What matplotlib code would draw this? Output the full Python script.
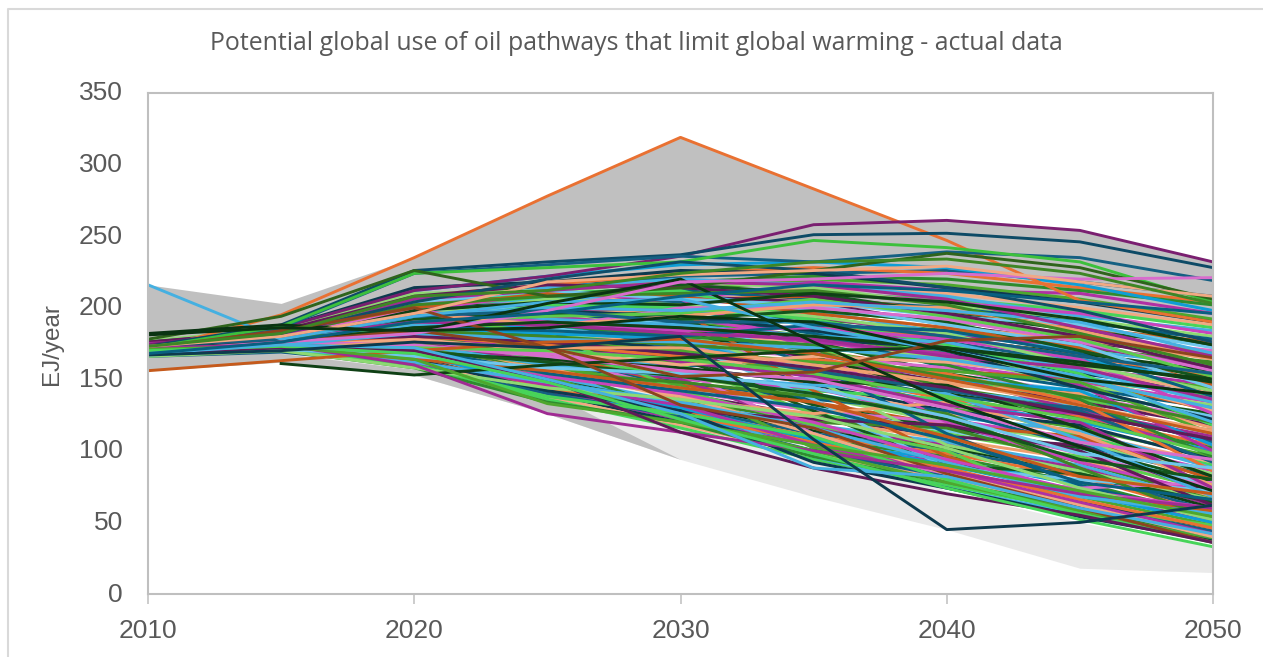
import numpy as np
import matplotlib
matplotlib.use('Agg')
import matplotlib.pyplot as plt
from matplotlib.lines import Line2D
from matplotlib.transforms import ScaledTranslation

years = [2010, 2015, 2020, 2025, 2030, 2035, 2040, 2045, 2050]

band_top = [216, 203, 235, 278, 319, 283, 247, 215, 200]
band_top2 = [172, 180, 208, 222, 236, 258, 261, 254, 232]
band_upper_low = [172, 180, 208, 212, 215, 208, 198, 195, 190]
band_light_top = [168, 170, 178, 170, 145, 110, 72, 50, 33]
band_dark_low = [168, 168, 157, 141, 94, 68, 45, 18, 15]
band_bottom = [156, 162, 153, 126, 94, 68, 45, 18, 15]

# bulk of the pathways, EJ/year at each year
pathways = [
    [172, 180, 205, 214, 222, 224, 226, 218, 208],
    [174, 182, 208, 216, 224, 228, 224, 214, 204],
    [170, 178, 200, 212, 218, 222, 220, 212, 202],
    [176, 184, 212, 222, 230, 232, 228, 216, 198],
    [168, 176, 198, 208, 216, 218, 212, 210, 196],
    [172, 180, 204, 206, 212, 220, 216, 206, 192],
    [175, 186, 214, 218, 226, 224, 214, 204, 190],
    [170, 177, 196, 204, 210, 214, 210, 200, 188],
    [173, 181, 206, 210, 214, 210, 206, 198, 186],
    [171, 179, 202, 214, 220, 216, 208, 194, 184],
    [169, 175, 194, 202, 208, 212, 204, 196, 182],
    [177, 185, 210, 212, 218, 214, 202, 192, 180],
    [174, 180, 200, 206, 212, 206, 200, 190, 178],
    [168, 174, 192, 200, 206, 208, 198, 186, 176],
    [172, 178, 198, 208, 216, 210, 196, 184, 174],
    [170, 176, 190, 198, 204, 204, 194, 188, 172],
    [175, 182, 204, 204, 206, 200, 192, 180, 170],
    [167, 173, 188, 194, 200, 198, 190, 182, 168],
    [171, 178, 196, 202, 208, 204, 188, 176, 166],
    [173, 180, 200, 198, 196, 196, 186, 178, 164],
    [169, 174, 186, 192, 198, 192, 184, 172, 162],
    [176, 183, 202, 206, 210, 198, 182, 170, 160],
    [168, 175, 190, 196, 202, 194, 180, 174, 158],
    [172, 177, 188, 190, 192, 190, 178, 168, 156],
    [170, 176, 194, 200, 204, 188, 176, 162, 154],
    [174, 179, 192, 188, 186, 186, 180, 166, 152],
    [167, 172, 182, 186, 192, 184, 172, 160, 150],
    [171, 178, 198, 204, 200, 182, 170, 164, 148],
    [169, 173, 180, 182, 188, 186, 174, 158, 146],
    [175, 181, 196, 194, 190, 180, 168, 156, 144],
    [168, 174, 186, 190, 184, 178, 172, 154, 142],
    [172, 176, 184, 184, 182, 176, 164, 158, 140],
    [173, 180, 200, 208, 212, 190, 166, 150, 138],
    [170, 175, 188, 186, 178, 174, 162, 152, 136],
    [176, 182, 194, 196, 194, 178, 160, 148, 134],
    [167, 171, 178, 180, 176, 172, 166, 146, 132],
    [171, 177, 190, 192, 196, 182, 158, 144, 130],
    [174, 178, 186, 178, 174, 170, 156, 150, 128],
    [169, 174, 182, 188, 190, 176, 154, 140, 126],
    [172, 179, 198, 200, 188, 168, 152, 142, 124],
    [168, 172, 176, 176, 172, 166, 158, 138, 122],
    [175, 180, 192, 184, 180, 172, 150, 136, 120],
    [170, 176, 188, 194, 186, 164, 148, 134, 118],
    [173, 177, 180, 174, 168, 160, 146, 140, 116],
    [167, 172, 180, 182, 184, 170, 144, 130, 114],
    [171, 178, 196, 190, 176, 158, 142, 132, 112],
    [169, 173, 178, 172, 164, 162, 152, 128, 110],
    [174, 179, 188, 186, 182, 166, 140, 126, 108],
    [172, 175, 176, 168, 160, 156, 138, 130, 106],
    [168, 174, 186, 180, 170, 154, 136, 124, 104],
    [176, 181, 190, 176, 166, 152, 144, 122, 102],
    [170, 175, 184, 188, 178, 150, 134, 120, 100],
    [173, 178, 182, 170, 158, 148, 132, 126, 98],
    [167, 171, 174, 166, 162, 158, 130, 116, 96],
    [171, 176, 186, 178, 172, 146, 128, 118, 94],
    [169, 174, 180, 184, 174, 144, 126, 112, 92],
    [174, 178, 178, 164, 154, 142, 136, 110, 90],
    [172, 177, 184, 174, 156, 140, 124, 114, 88],
    [168, 172, 172, 162, 150, 144, 122, 108, 86],
    [175, 180, 188, 172, 152, 138, 120, 106, 84],
    [170, 174, 176, 160, 148, 136, 128, 104, 82],
    [173, 176, 178, 168, 146, 134, 118, 110, 80],
    [167, 172, 182, 176, 164, 132, 116, 102, 78],
    [171, 175, 170, 158, 144, 130, 114, 100, 76],
    [169, 173, 176, 166, 142, 128, 120, 98, 74],
    [174, 179, 186, 170, 160, 126, 112, 96, 72],
    [172, 176, 174, 156, 140, 124, 110, 104, 70],
    [168, 171, 168, 154, 138, 122, 108, 94, 68],
    [176, 180, 182, 164, 136, 120, 116, 92, 66],
    [170, 174, 172, 152, 134, 118, 106, 90, 64],
    [173, 177, 176, 162, 150, 116, 104, 88, 62],
    [167, 170, 166, 150, 132, 114, 102, 86, 60],
    [171, 174, 170, 148, 130, 112, 100, 84, 58],
    [169, 172, 164, 146, 128, 110, 98, 82, 56],
    [174, 177, 174, 160, 126, 108, 96, 78, 54],
    [172, 175, 168, 144, 124, 106, 94, 76, 52],
    [168, 170, 162, 142, 122, 104, 92, 72, 50],
    [175, 178, 172, 158, 146, 102, 86, 68, 48],
    [170, 173, 166, 140, 120, 100, 84, 64, 46],
    [173, 175, 164, 138, 118, 98, 80, 60, 44],
    [167, 170, 160, 136, 116, 94, 76, 58, 42],
    [171, 173, 168, 148, 134, 96, 74, 56, 40],
    # these cross the fan at steeper angles
    [176, 182, 198, 210, 206, 170, 120, 92, 70],
    [172, 178, 200, 196, 184, 150, 104, 86, 66],
    [170, 176, 190, 180, 190, 160, 112, 76, 54],
    [174, 180, 192, 200, 198, 142, 96, 70, 58],
    [168, 174, 184, 172, 168, 128, 90, 84, 64],
    [173, 177, 180, 186, 176, 136, 88, 80, 72],
    [169, 173, 172, 168, 156, 112, 82, 74, 78],
    [175, 181, 194, 182, 142, 118, 100, 60, 48],
    [171, 176, 178, 150, 128, 122, 118, 100, 62],
    [167, 172, 170, 158, 136, 126, 134, 112, 76],
    [172, 177, 176, 154, 148, 138, 126, 88, 52],
    [170, 175, 174, 160, 152, 146, 140, 108, 68],
    [174, 178, 182, 178, 162, 152, 132, 120, 74],
    [168, 172, 168, 164, 158, 148, 146, 116, 82],
    [173, 179, 188, 192, 170, 156, 142, 128, 92],
    [169, 174, 180, 174, 166, 164, 154, 134, 86],
    [176, 183, 196, 188, 180, 174, 160, 136, 96],
    [171, 177, 186, 182, 178, 168, 150, 142, 104],
    [172, 180, 202, 194, 186, 176, 168, 146, 100],
    [170, 175, 184, 176, 170, 162, 156, 148, 112],
    [175, 181, 192, 198, 194, 184, 170, 144, 122],
    [168, 173, 178, 170, 160, 166, 162, 152, 128],
    [173, 178, 190, 202, 200, 192, 174, 154, 118],
    [169, 176, 188, 192, 188, 180, 176, 156, 134],
    [174, 180, 198, 190, 184, 186, 178, 164, 126],
    [171, 177, 194, 206, 202, 194, 182, 160, 142],
    [167, 174, 186, 184, 180, 188, 184, 168, 138],
    [172, 179, 200, 210, 208, 196, 186, 172, 146],
    [170, 176, 192, 196, 192, 198, 190, 170, 150],
    [175, 183, 204, 212, 206, 202, 188, 174, 144],
    [173, 180, 198, 186, 200, 200, 192, 176, 156],
    [169, 175, 190, 194, 196, 206, 194, 178, 152],
    [176, 184, 208, 216, 214, 208, 196, 180, 158],
    [171, 178, 196, 188, 194, 202, 200, 184, 164],
    [174, 181, 202, 208, 210, 212, 202, 182, 160],
    [168, 176, 194, 200, 198, 204, 198, 190, 168],
    [172, 180, 206, 212, 218, 216, 206, 186, 166],
    [170, 177, 198, 204, 202, 210, 204, 192, 174],
    # low edge of the fan
    [166, 169, 160, 140, 124, 100, 82, 62, 44],
    [170, 172, 164, 144, 126, 106, 88, 66, 46],
    [168, 170, 158, 134, 120, 96, 78, 60, 40],
    [172, 174, 166, 150, 130, 108, 90, 70, 50],
    [169, 171, 162, 146, 132, 104, 86, 64, 42],
    [171, 173, 168, 152, 122, 100, 78, 58, 38],
    [167, 170, 164, 142, 128, 92, 74, 54, 37],
    [173, 175, 170, 156, 138, 112, 84, 62, 40],
    [168, 171, 160, 138, 126, 110, 80, 56, 36],
    [170, 172, 162, 148, 134, 116, 92, 68, 56],
    [172, 175, 166, 152, 140, 120, 94, 72, 60],
    [166, 170, 158, 144, 136, 124, 102, 74, 52],
    [174, 176, 172, 154, 142, 130, 108, 78, 66],
    [169, 172, 164, 156, 144, 134, 110, 82, 70],
    [171, 174, 170, 162, 152, 140, 122, 94, 80],
    [167, 171, 166, 158, 154, 144, 124, 98, 88],
    [173, 176, 174, 166, 156, 150, 130, 106, 94],
    [170, 173, 172, 170, 164, 154, 138, 122, 98],
    [172, 177, 180, 176, 168, 158, 144, 126, 108],
    [168, 172, 176, 172, 172, 160, 148, 132, 114],
    [174, 179, 184, 180, 174, 168, 152, 138, 120],
    [169, 174, 182, 178, 176, 172, 164, 150, 130],
    [175, 180, 190, 188, 182, 178, 166, 158, 136],
    [171, 176, 186, 190, 186, 180, 172, 162, 148],
    [173, 178, 194, 198, 190, 190, 180, 166, 154],
]

palette = [
    '#156082', '#E97132', '#2E8B2E', '#0F9ED5', '#B030A4', '#4EA72E',
    '#0D3A4E', '#F1A983', '#47D459', '#45B0E1', '#C944BC', '#8ED973',
    '#095F80', '#C55A1C', '#14561D', '#6FC7EC', '#D86DCD', '#5CCB4C',
    '#601A58', '#F0A070', '#3E8625', '#45B0E1', '#A02B93', '#0F4015',
]

# series that stand out, drawn on top
spec_colors = ['#E97132', '#45B0E1', '#C55A1C', '#0F4015', '#7A1F70', '#0D4A66',
               '#156082', '#3CC03C', '#2F641C', '#114D68', '#0A3312', '#8B441E',
               '#8B441E', '#D86DCD', '#A02B93', '#4EA72E', '#601A58', '#47D459',
               '#45B0E1', '#0D3A4E', '#F1A983', '#3E8625', '#095F80', '#0A3312']
special_rows = [
    [170, 195, 235, 278, 319, 283, 247, 205, 190],
    [216, 178, 194, 204, 206, 186, 170, 152, 120],
    [156, 163, 170, 176, 178, 168, 150, 132, 112],
    [None, 161, 153, 160, 165, 170, 172, 160, 150],
    [174, 186, 212, 222, 236, 258, 261, 254, 232],
    [173, 188, 226, 232, 237, 251, 252, 246, 228],
    [172, 186, 224, 230, 236, 232, 239, 235, 219],
    [172, 187, 224, 228, 232, 247, 242, 232, 204],
    [178, 194, 226, 208, 214, 226, 238, 228, 206],
    [170, 182, 204, 220, 232, 226, 214, 198, 176],
    [182, 188, 183, 203, 220, 176, 135, 103, 72],
    [172, 184, 200, 172, 132, 116, 84, 60, 36],
    [168, 176, 184, 172, 152, 155, 177, 180, 165],
    [170, 176, 182, 198, 218, 220, 224, 220, 221],
    [172, 174, 160, 126, 113, 100, 86, 70, 60],
    [171, 173, 164, 133, 120, 104, 90, 72, 54],
    [168, 172, 170, 150, 113, 88, 70, 55, 36],
    [170, 173, 168, 148, 122, 98, 74, 52, 33],
    [168, 174, 172, 150, 126, 88, 82, 60, 42],
    [167, 170, 176, 172, 180, 108, 45, 50, 62],
    [173, 180, 196, 218, 223, 226, 229, 218, 208],
    [173, 182, 208, 212, 224, 232, 234, 224, 203],
    [168, 176, 190, 196, 208, 216, 212, 204, 196],
    [181, 186, 184, 186, 194, 190, 170, 150, 140],
]

fig = plt.figure(figsize=(12.63, 6.57), dpi=100)
ax = fig.add_axes([148 / 1263, 1 - 594 / 657, (1213 - 148) / 1263, 501 / 657])

ax.fill_between(years, band_upper_low, band_top, color='#C0C0C0', lw=0)
ax.fill_between(years, band_upper_low, band_top2, color='#C0C0C0', lw=0)
ax.fill_between(years, band_bottom, band_light_top, color='#EAEAEA', lw=0)
ax.fill_between(years, band_bottom, band_dark_low, color='#C0C0C0', lw=0)

for i, row in enumerate(pathways):
    ax.plot(years, np.array(row, dtype=float), color=palette[i % len(palette)],
            lw=2.2, solid_joinstyle='round')
for row, col in zip(special_rows, spec_colors):
    ax.plot(years, np.array(row, dtype=float), color=col, lw=2.1, solid_joinstyle='round')

ax.set_xlim(2010, 2050)
ax.set_ylim(0, 350)
ax.set_xticks([2010, 2020, 2030, 2040, 2050])
ax.set_yticks(range(0, 351, 50))
for s in ax.spines.values():
    s.set_color('#BFBFBF')
    s.set_linewidth(1.5)
ax.tick_params(axis='x', length=7, width=1.1, color='#BFBFBF', pad=11,
               labelsize=19, labelcolor='#595959')
ax.tick_params(axis='y', length=0, pad=18, labelsize=19, labelcolor='#595959')
up = ScaledTranslation(0, 2 / 100, fig.dpi_scale_trans)
for lab in ax.get_yticklabels():
    lab.set_family('Liberation Sans')
    lab.set_transform(lab.get_transform() + up)
for lab in ax.get_xticklabels():
    lab.set_family('Liberation Sans')

fig.text(636 / 1263, 1 - 44 / 657,
         'Potential global use of oil pathways that limit global warming - actual data',
         ha='center', va='center', fontsize=17.9, color='#595959', family='Open Sans')
fig.text(52 / 1263, 1 - 344 / 657, 'EJ/year', rotation=90, ha='center', va='center',
         fontsize=17.5, color='#595959', family='Liberation Sans')

# frame of the pasted chart, open at the right and bottom
fig.add_artist(Line2D([8 / 1263, 8 / 1263, 1], [0, 1 - 9 / 657, 1 - 9 / 657],
                      color='#D9D9D9', lw=1.5))

fig.savefig('out.png', dpi=100)
